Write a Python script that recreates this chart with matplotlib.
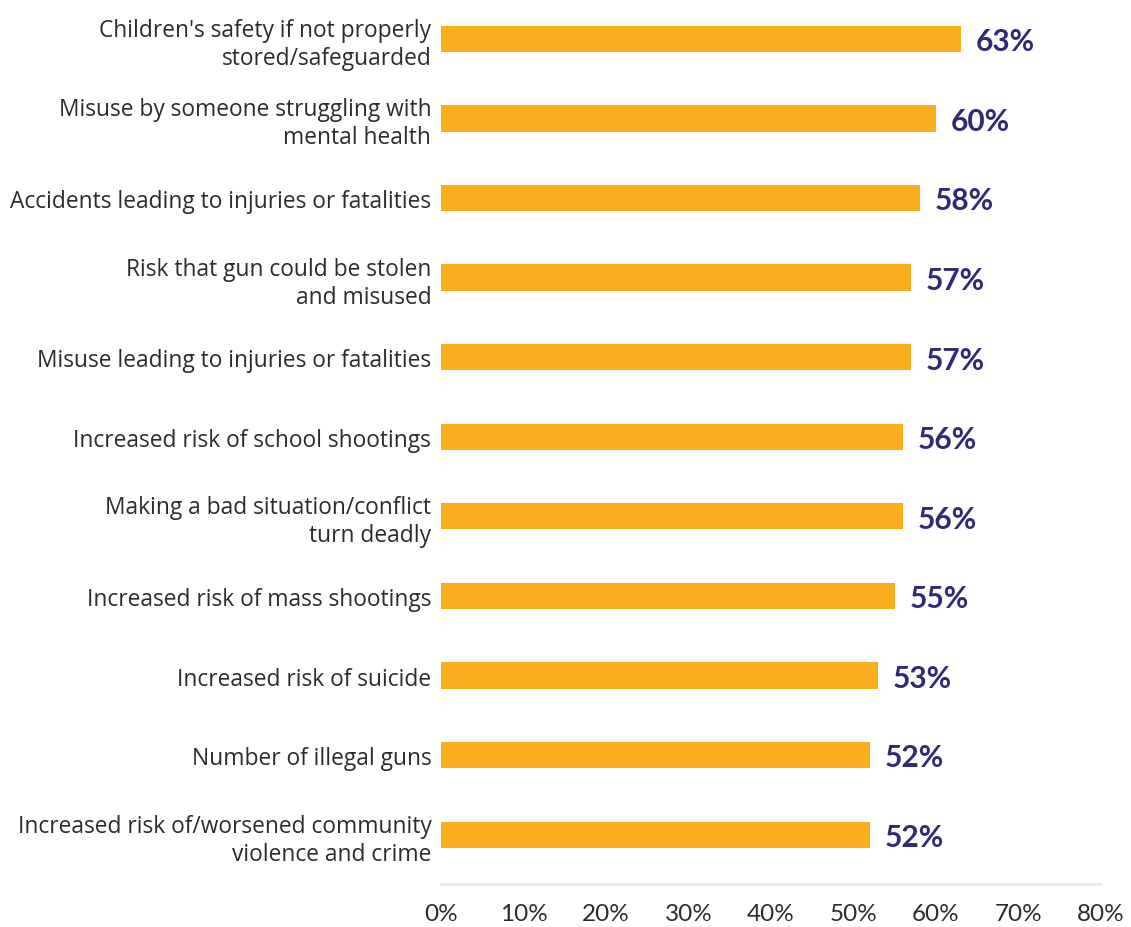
import matplotlib
matplotlib.use("Agg")
import matplotlib.pyplot as plt
from matplotlib.ticker import FuncFormatter

BAR_COLOR = "#F9AC1C"
VALUE_COLOR = "#2E2A78"
TEXT_COLOR = "#2B2B2B"

concerns = [
    "Children's safety if not properly\nstored/safeguarded",
    "Misuse by someone struggling with\nmental health",
    "Accidents leading to injuries or fatalities",
    "Risk that gun could be stolen\nand misused",
    "Misuse leading to injuries or fatalities",
    "Increased risk of school shootings",
    "Making a bad situation/conflict\nturn deadly",
    "Increased risk of mass shootings",
    "Increased risk of suicide",
    "Number of illegal guns",
    "Increased risk of/worsened community\nviolence and crime",
]
shares = [63, 60, 58, 57, 57, 56, 56, 55, 53, 52, 52]
xticks = [0, 10, 20, 30, 40, 50, 60, 70, 80]

fig = plt.figure(figsize=(11.31, 9.28), dpi=100)
ax = fig.add_axes([0.39, 0.0463, 0.5835, 0.9537])

ypos = list(range(len(concerns)))
ax.barh(ypos, shares, height=0.33, color=BAR_COLOR)
for y, v in zip(ypos, shares):
    ax.text(v + 1.8, y + 0.03, f"{v}%", va="center", ha="left", fontsize=21.5,
            fontweight="bold", fontstyle="normal", color=VALUE_COLOR, family="Lato")

ax.set_xlim(0, 80)
ax.set_ylim(10.62, -0.5)
ax.set_yticks(ypos)
ax.set_yticklabels(concerns, fontsize=16.4, color=TEXT_COLOR, family="Open Sans",
                   linespacing=1.22)
ax.set_xticks(xticks)
ax.xaxis.set_major_formatter(FuncFormatter(lambda v, _: f"{v:.0f}%"))
for lab in ax.get_xticklabels():
    lab.set_family("Lato")
    lab.set_fontsize(17.5)
    lab.set_color(TEXT_COLOR)

ax.tick_params(axis="y", length=0, pad=7)
ax.tick_params(axis="x", length=0, pad=14)
for side in ["top", "right", "left"]:
    ax.spines[side].set_visible(False)
ax.spines["bottom"].set_color("#F6E6D8")
ax.spines["bottom"].set_linewidth(2)

fig.savefig("out.png", dpi=100)
